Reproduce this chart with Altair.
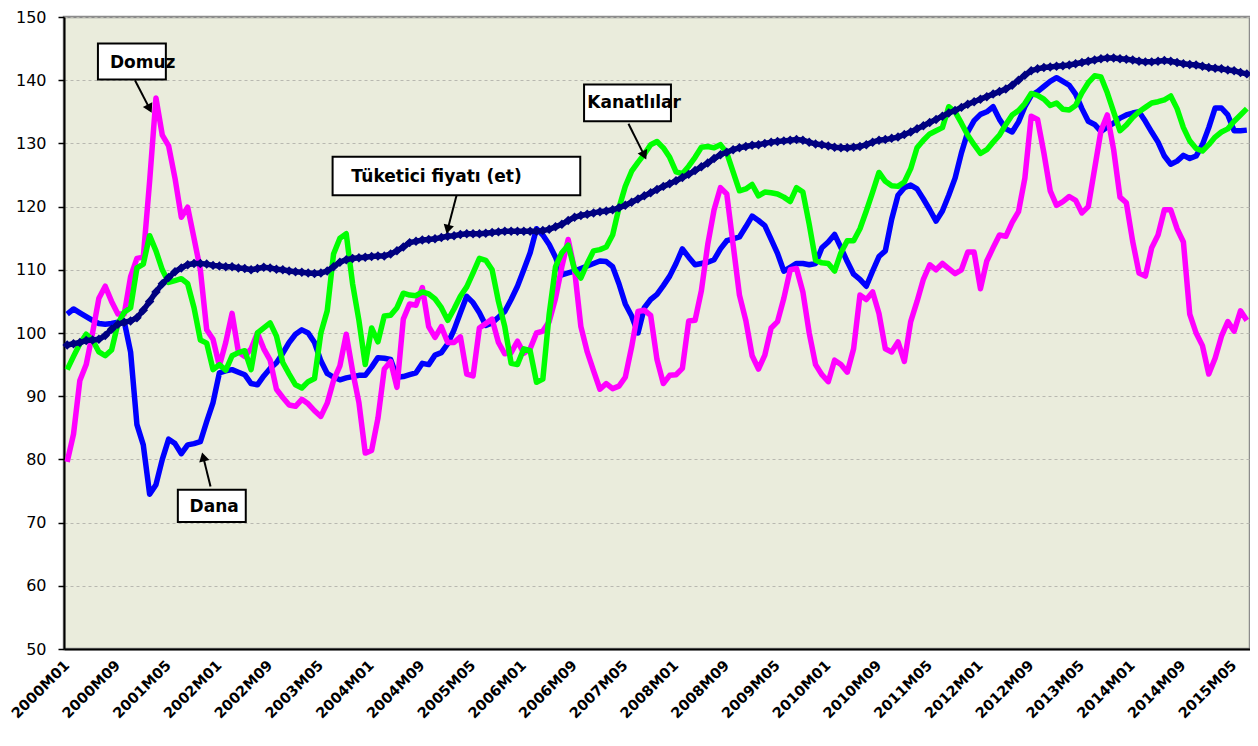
import altair as alt
import pandas as pd

# ---- categories ----
months = [f"{y}M{m:02d}" for y in range(2000, 2016) for m in range(1, 13)][:187]
tick_idx = list(range(0, 187, 8))
tick_labels = [months[i] for i in tick_idx]

# ---- series values ----
dana = [103, 103.8, 103.2, 102.6, 102, 101.5, 101.4, 101.5, 101.7, 101.8,
        97, 85.5, 82.3, 74.5, 76, 80, 83.2, 82.5, 80.9, 82.3,
        82.5, 82.8, 86, 89, 93.7, 94, 94.2, 93.8, 93.4, 92,
        91.8, 93.2, 94.4, 95.3, 96.8, 98.5, 99.8, 100.5, 100, 98.5,
        95.6, 93.6, 93, 92.6, 92.9, 93.1, 93.3, 93.3, 94.6, 96.1,
        96, 95.8, 93, 93.1, 93.4, 93.7, 95.2, 95, 96.5, 96.9,
        98.3, 100.5, 103.2, 105.8, 104.8, 103.2, 101.2, 101.6, 102.5, 103.4,
        105.3, 107.4, 110, 112.7, 116.5, 115.5, 114, 112, 109.2, 109.5,
        109.8, 110.2, 110.6, 111, 111.4, 111.3, 110.5, 107.8, 104.6, 102.7,
        100, 104, 105.3, 106.1, 107.5, 109, 111, 113.3, 112, 110.8,
        111, 111.2, 111.6, 113.3, 114.6, 114.9, 115.2, 116.8, 118.5, 117.8,
        117, 114.8, 112.6, 109.8, 110.4, 111, 111, 110.8, 111, 113.5,
        114.4, 115.6, 113.5, 111.3, 109.3, 108.5, 107.4, 109.8, 112.1, 113,
        118, 121.8, 123, 123.4, 122.8, 121.2, 119.5, 117.7, 119.3, 121.8,
        124.5, 128.5, 131.8, 133.6, 134.6, 135, 135.8, 133.8, 132.3, 131.8,
        133.4, 135.8, 137.6, 138.2, 139, 139.8, 140.4, 139.8, 139.2, 137.8,
        135.5, 133.5, 133, 131.9, 132.6, 133.2, 134, 134.5, 134.8, 135,
        133.5, 131.8, 130.2, 128, 126.7, 127.2, 128.1, 127.6, 128, 129.8,
        132.5, 135.6, 135.6, 134.5, 132, 132, 132.1]

domuz = [79.6, 84, 92.5, 95, 100, 105.5, 107.4, 105, 103, 103,
         108.9, 111.8, 112, 124, 137.2, 131.3, 129.6, 124.5, 118.3, 119.9,
         115, 110, 100.5, 99, 94.8, 98.5, 103.1, 97, 96.3, 97.5,
         100, 97.5, 95.7, 91.1, 89.8, 88.6, 88.4, 89.5, 88.8, 87.7,
         86.8, 88.9, 92.5, 94.8, 99.8, 94, 89, 81, 81.4, 86.5,
         94.3, 95.5, 91.4, 102.2, 104.6, 104.4, 107.2, 101, 99.3, 101,
         98.5, 98.5, 99.4, 93.5, 93.2, 100.8, 101.5, 102.2, 98.5, 96.7,
         96.9, 98.7, 96.8, 97.5, 100, 100.3, 101.8, 105.5, 110.5, 114.8,
         110, 101, 97, 94, 91.1, 92, 91.2, 91.6, 93, 97.8,
         103.4, 103.6, 102.8, 95.8, 92, 93.3, 93.4, 94.4, 101.9, 102,
         106.7, 114, 119.5, 123, 122, 114, 106, 102, 96.4, 94.3,
         96.5, 100.8, 101.8, 105.5, 110, 110.2, 106.5, 100, 95, 93.4,
         92.3, 95.7, 95, 93.8, 97.5, 106, 105.3, 106.5, 103.1, 97.5,
         97, 98.6, 95.5, 101.8, 105, 108.5, 110.8, 110, 111, 110.2,
         109.4, 110, 112.8, 112.8, 107, 111.4, 113.5, 115.5, 115.3, 117.5,
         119.2, 124.5, 134.3, 133.8, 128.5, 122.5, 120.2, 120.8, 121.6, 121,
         119, 120, 126, 132, 134.5, 129, 121.5, 120.6, 114.5, 109.5,
         109, 113.5, 115.5, 119.5, 119.5, 116.5, 114.4, 103, 100, 98,
         93.5, 96, 99.5, 101.8, 100.3, 103.5, 102]

kanatlilar = [94.2, 96.3, 98.3, 99.8, 98.9, 97, 96.4, 97.3, 101.5, 103.3,
              104, 110.3, 110.9, 115.4, 113, 110, 108, 108.3, 108.6, 107.8,
              104, 98.9, 98.4, 94.2, 95, 94.1, 96.4, 96.9, 97.2, 94.2,
              100, 100.8, 101.6, 99.5, 95.3, 93.5, 91.8, 91.3, 92.3, 92.8,
              100, 103.5, 112.5, 115, 115.7, 107.8, 102, 95, 100.8, 98.6,
              102.7, 102.8, 104, 106.3, 106, 105.9, 106.5, 106.2, 105.4, 104,
              102, 103.8, 105.8, 107.3, 109.5, 111.8, 111.5, 110, 105, 101,
              95.2, 95, 97.5, 97.2, 92.2, 92.7, 103, 110.5, 112.7, 113.9,
              110, 108.7, 111, 113, 113.2, 113.6, 115.5, 119.8, 123.2, 125.6,
              127, 128.3, 129.8, 130.3, 129.3, 127.8, 125.5, 125.2, 126.4, 127.8,
              129.4, 129.5, 129.3, 129.8, 128.5, 125.5, 122.5, 122.8, 123.5, 121.7,
              122.3, 122.2, 122, 121.5, 120.8, 123, 122.3, 117.2, 111.5, 111.1,
              111, 109.8, 112.7, 114.6, 114.6, 116.5, 119.3, 122.3, 125.4, 124,
              123.3, 123.2, 123.9, 126, 129.3, 130.5, 131.5, 132, 132.5, 135.8,
              135, 133.2, 131.3, 129.8, 128.4, 129, 130.2, 131.3, 133, 134.5,
              135.2, 136.3, 137.9, 137.6, 137, 136, 136.4, 135.4, 135.3, 136,
              138, 139.6, 140.7, 140.5, 138, 135, 132, 132.9, 134.1, 135,
              135.7, 136.4, 136.6, 136.9, 137.5, 135.5, 132.5, 130.4, 129.2, 128.8,
              129.8, 131, 131.8, 132.3, 133.5, 134.5, 135.5]

tuketici = [98.1, 98.3, 98.5, 98.8, 98.9, 99, 99.6, 100.6, 101.4, 101.7,
            101.9, 102.4, 103.6, 105, 106.5, 107.8, 108.8, 109.7, 110.3, 110.8,
            111, 111, 110.9, 110.7, 110.6, 110.5, 110.5, 110.3, 110.2, 110,
            110.2, 110.4, 110.3, 110.1, 110, 109.8, 109.7, 109.6, 109.5, 109.4,
            109.5, 109.8, 110.5, 111.2, 111.6, 111.8, 111.9, 112, 112.1, 112.2,
            112.2, 112.5, 113, 113.6, 114.3, 114.5, 114.7, 114.8, 114.9, 115.1,
            115.3, 115.4, 115.6, 115.7, 115.7, 115.7, 115.8, 115.9, 116, 116.1,
            116.1, 116.1, 116.1, 116.1, 116.1, 116.2, 116.4, 116.8, 117.2, 117.8,
            118.3, 118.6, 118.8, 119, 119.2, 119.3, 119.5, 119.8, 120.2, 120.7,
            121.2, 121.7, 122.2, 122.7, 123.2, 123.6, 124.1, 124.6, 125.1, 125.7,
            126.3, 126.9, 127.6, 128.2, 128.6, 129, 129.3, 129.5, 129.7, 129.8,
            130, 130.2, 130.3, 130.4, 130.5, 130.6, 130.5, 130.2, 129.9, 129.8,
            129.6, 129.4, 129.3, 129.3, 129.4, 129.5, 129.8, 130.2, 130.5, 130.6,
            130.8, 131, 131.4, 131.8, 132.3, 132.8, 133.3, 133.8, 134.3, 134.8,
            135.2, 135.7, 136.2, 136.6, 137, 137.4, 137.8, 138.2, 138.6, 139.2,
            140, 140.8, 141.5, 141.8, 142, 142.1, 142.2, 142.3, 142.4, 142.6,
            142.8, 143, 143.2, 143.4, 143.5, 143.5, 143.4, 143.3, 143.2, 143,
            142.9, 142.9, 143, 143.1, 143, 142.8, 142.6, 142.5, 142.4, 142.2,
            142, 141.9, 141.8, 141.6, 141.5, 141.2, 141]

series_names = ["Dana", "Domuz", "Kanatlılar", "Tüketici fiyatı (et)"]
series_colors = ["#0000FF", "#FF00FF", "#00FF00", "#000080"]

# ---- annotations (label, box in data units, text anchor, arrow) ----
ann_labels = ["Domuz", "Tüketici fiyatı (et)", "Kanatlılar", "Dana"]
box_x1 = [4.85, 41.85, 81.5, 17.45]
box_x2 = [15.56, 80.9, 95.2, 28.16]
box_y1 = [145.8, 127.9, 139.3, 75.2]
box_y2 = [140.1, 121.8, 133.5, 70.1]
text_x = [6.75, 44.8, 82.0, 19.3]
text_y = [142.7, 124.7, 136.4, 72.5]
arr_x1 = [10.69, 61.4, 88.5, 22.6]
arr_y1 = [140.0, 121.8, 133.1, 75.7]
arr_x2 = [13.0, 60.0, 91.0, 21.45]
arr_y2 = [135.5, 116.4, 128.1, 80.4]
arr_angle = [153, 194, 155, 346]

# ---- tables ----
rows = []
for name, vals in zip(series_names, [dana, domuz, kanatlilar, tuketici]):
    for i, v in enumerate(vals):
        rows.append({"idx": i, "month": months[i], "series": name, "value": v})
df = pd.DataFrame(rows)
ann = pd.DataFrame({
    "label": ann_labels, "bx1": box_x1, "bx2": box_x2, "by1": box_y1, "by2": box_y2,
    "tx": text_x, "ty": text_y, "ax1": arr_x1, "ay1": arr_y1, "ax2": arr_x2,
    "ay2": arr_y2, "ang": arr_angle,
})

xs = alt.Scale(domain=[-0.5, 186.5], nice=False, zero=False)
ys = alt.Scale(domain=[50, 150], nice=False, zero=False)
label_array = "[" + ",".join(f"'{t}'" for t in tick_labels) + "]"

x_axis = alt.Axis(values=tick_idx, labelExpr=f"{label_array}[round(datum.value/8)]",
                  labelAngle=-45, labelAlign="right", labelBaseline="middle",
                  labelFontWeight="bold", labelFontSize=14.5, labelFont="DejaVu Sans",
                  labelColor="#000000", labelPadding=14, ticks=False, grid=False,
                  domainColor="#000000", domainWidth=2, title=None, labelOverlap=False,
                  labelFlush=False)
y_axis = alt.Axis(values=list(range(50, 151, 10)), labelFontSize=16, labelFont="DejaVu Sans",
                  labelColor="#000000", tickSize=6, tickColor="#000000", tickWidth=1.5,
                  labelPadding=12, domainColor="#000000", domainWidth=2, grid=True,
                  gridColor="#B8B8B0", gridDash=[3, 3], gridWidth=1, title=None)

color = alt.Color("series:N", scale=alt.Scale(domain=series_names, range=series_colors),
                  legend=None)

base = alt.Chart(df)
lines = base.transform_filter(alt.datum.series != "Tüketici fiyatı (et)").mark_line(
    strokeWidth=5.5, strokeJoin="round").encode(
    x=alt.X("idx:Q", scale=xs, axis=x_axis),
    y=alt.Y("value:Q", scale=ys, axis=y_axis),
    color=color, detail="series:N",
    order=alt.Order("idx:Q"),
)
cpi = base.transform_filter(alt.datum.series == "Tüketici fiyatı (et)").mark_line(
    strokeWidth=5.5, point=alt.OverlayMarkDef(shape="diamond", size=90, filled=True,
                                              color="#000080")).encode(
    x=alt.X("idx:Q", scale=xs),
    y=alt.Y("value:Q", scale=ys),
    color=color,
)

abase = alt.Chart(ann)
boxes = abase.mark_rect(fill="white", stroke="#000000", strokeWidth=2).encode(
    x=alt.X("bx1:Q", scale=xs), x2="bx2:Q",
    y=alt.Y("by1:Q", scale=ys), y2="by2:Q")
texts = abase.mark_text(align="left", baseline="middle", fontWeight="bold", fontSize=17,
                        font="DejaVu Sans", color="#000000").encode(
    x=alt.X("tx:Q", scale=xs), y=alt.Y("ty:Q", scale=ys), text="label:N")
arrows = abase.mark_rule(color="#000000", strokeWidth=2).encode(
    x=alt.X("ax1:Q", scale=xs), x2="ax2:Q",
    y=alt.Y("ay1:Q", scale=ys), y2="ay2:Q")
heads = abase.mark_point(shape="triangle-up", filled=True, color="#000000", size=110,
                         opacity=1).encode(
    x=alt.X("ax2:Q", scale=xs), y=alt.Y("ay2:Q", scale=ys),
    angle=alt.Angle("ang:Q", scale=None))

chart = alt.layer(lines, cpi, arrows, heads, boxes, texts).properties(
    width=1186, height=632,
    autosize=alt.AutoSizeParams(type="none"),
    padding={"left": 56, "top": 9, "right": 0, "bottom": 84},
    background="white",
).configure_view(fill="#EAECDC", stroke="#8C8C8C", strokeWidth=2.5)

chart.save("out.html", embed_options={"renderer": "svg", "actions": False})
